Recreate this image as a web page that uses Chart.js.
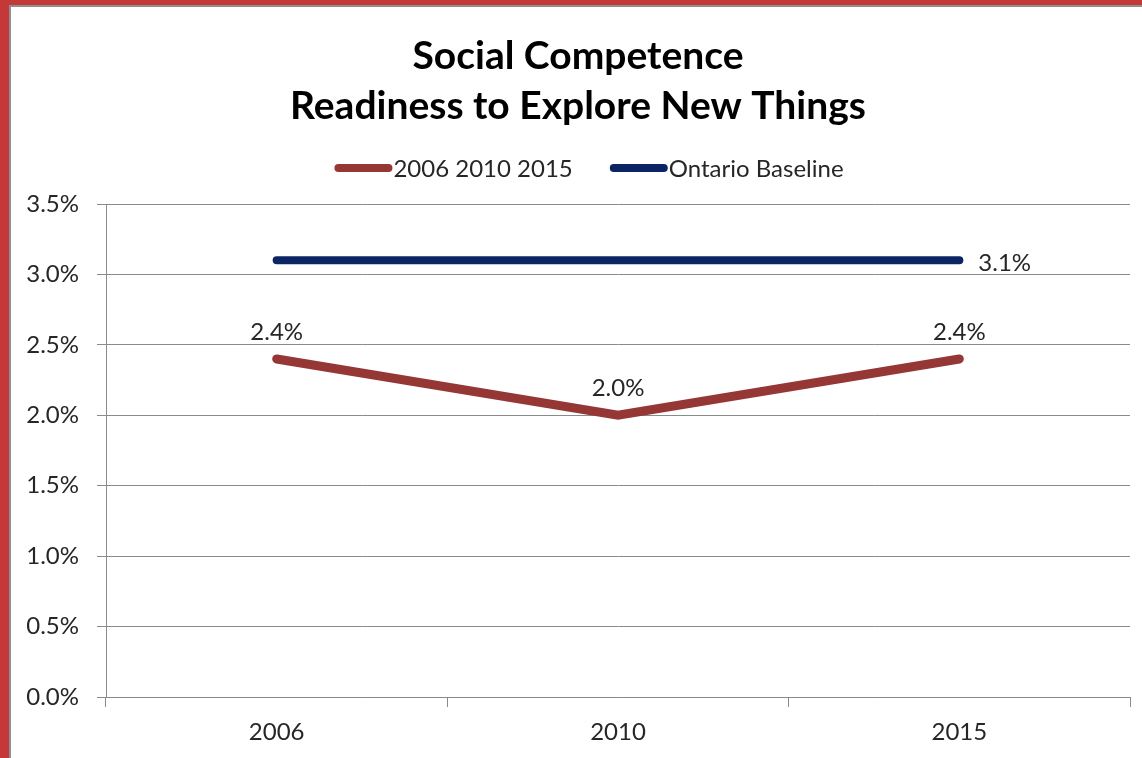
<!DOCTYPE html>
<html>
<head>
<meta charset="utf-8">
<script src="https://cdn.jsdelivr.net/npm/chart.js@4/dist/chart.umd.min.js"></script>
<style>
  html, body { margin: 0; padding: 0; background: #ffffff; }
  #wrap { position: relative; width: 1142px; height: 758px; overflow: hidden; }
  #chart { position: absolute; left: 0; top: 0; }
  #frame {
    position: absolute; left: 0; top: 0; width: 1142px; height: 758px;
    box-sizing: border-box; pointer-events: none;
    border-left: 9px solid #c43838; border-top: 5px solid #c43838;
  }
  #frame-inner {
    position: absolute; left: 0; top: 0; right: 0; bottom: 0;
    border-left: 2px solid #8f8f8f; border-top: 2px solid #8f8f8f;
  }
</style>
</head>
<body>
<div id="wrap">
  <canvas id="chart" width="1142" height="758"></canvas>
  <div id="frame"><div id="frame-inner"></div></div>
</div>
<script>
// Survey years on the x axis
const years = ['2006', '2010', '2015'];
// Percentage of children vulnerable, by survey year
const localValues = [2.4, 2.0, 2.4];
// Provincial reference level
const baselineValues = [3.1, 3.1, 3.1];
// Series names shown in the legend
const seriesNames = ['2006 2010 2015', 'Ontario Baseline'];
// Chart heading lines
const titleLines = ['Social Competence', 'Readiness to Explore New Things'];

const FONT = 'Lato, "Open Sans", sans-serif';
const TEXT = '#262626';
const GRID = '#8a8a8a';
const LABEL_SIZE = 24;

// Heading, legend and value labels painted onto the canvas
const decorations = {
  id: 'decorations',
  afterDraw(chart) {
    const ctx = chart.ctx;
    ctx.save();
    ctx.fillStyle = '#000';
    ctx.textAlign = 'center';
    ctx.textBaseline = 'middle';
    ctx.font = 'bold 39px ' + FONT;
    const cx = 578;
    ctx.fillText(titleLines[0], cx, 56);
    ctx.fillText(titleLines[1], cx, 106);

    // legend
    ctx.font = LABEL_SIZE + 'px ' + FONT;
    const lineLen = 58, gapText = 1, gapItems = 37;
    const items = chart.data.datasets.map(ds => ({
      color: ds.borderColor, text: ds.label, w: lineLen + gapText + ctx.measureText(ds.label).width
    }));
    const total = items.reduce((s, it) => s + it.w, 0) + gapItems * (items.length - 1);
    let x = 589 - total / 2;
    const ly = 168;
    items.forEach(it => {
      ctx.strokeStyle = it.color;
      ctx.lineWidth = 8;
      ctx.lineCap = 'round';
      ctx.beginPath();
      ctx.moveTo(x + 4, ly);
      ctx.lineTo(x + lineLen - 4, ly);
      ctx.stroke();
      ctx.fillStyle = TEXT;
      ctx.textAlign = 'left';
      ctx.fillText(it.text, x + lineLen + gapText, ly + 1);
      x += it.w + gapItems;
    });

    // value labels
    ctx.font = LABEL_SIZE + 'px ' + FONT;
    ctx.fillStyle = TEXT;
    const m0 = chart.getDatasetMeta(0);
    ctx.textAlign = 'center';
    m0.data.forEach((pt, i) => {
      const v = chart.data.datasets[0].data[i];
      ctx.fillText(v.toFixed(1) + '%', pt.x, pt.y - 27);
    });
    const m1 = chart.getDatasetMeta(1);
    const last = m1.data.length - 1;
    const lp = m1.data[last];
    ctx.textAlign = 'left';
    ctx.fillText(chart.data.datasets[1].data[last].toFixed(1) + '%', lp.x + 19, lp.y + 3);
    ctx.restore();
  }
};

new Chart(document.getElementById('chart'), {
  type: 'line',
  data: {
    labels: years,
    datasets: [
      {
        label: seriesNames[0],
        data: localValues,
        borderColor: '#953735',
        backgroundColor: '#953735',
        borderWidth: 9,
        borderCapStyle: 'round',
        borderJoinStyle: 'miter',
        pointRadius: 0,
        tension: 0
      },
      {
        label: seriesNames[1],
        data: baselineValues,
        borderColor: '#0b2463',
        backgroundColor: '#0b2463',
        borderWidth: 8,
        borderCapStyle: 'round',
        pointRadius: 0,
        tension: 0
      }
    ]
  },
  options: {
    responsive: false,
    animation: false,
    events: [],
    layout: { padding: { left: 0, right: 12, top: 204, bottom: 0 } },
    plugins: {
      legend: { display: false },
      title: { display: false },
      tooltip: { enabled: false }
    },
    scales: {
      x: {
        offset: true,
        afterFit(scale) { scale.height = 61; },
        grid: {
          offset: true,
          drawOnChartArea: false,
          drawTicks: true,
          tickLength: 10,
          color: GRID
        },
        border: { display: true, color: GRID, width: 1 },
        ticks: {
          padding: 11,
          color: TEXT,
          font: { family: FONT, size: LABEL_SIZE }
        }
      },
      y: {
        min: 0,
        max: 3.5,
        afterFit(scale) { scale.width = 106; },
        grid: {
          color: GRID,
          drawTicks: true,
          tickLength: 9,
          lineWidth: 1
        },
        border: { display: true, color: GRID, width: 1 },
        ticks: {
          stepSize: 0.5,
          padding: 18,
          color: TEXT,
          font: { family: FONT, size: LABEL_SIZE },
          callback: v => v.toFixed(1) + '%'
        }
      }
    }
  },
  plugins: [decorations]
});
</script>
</body>
</html>
